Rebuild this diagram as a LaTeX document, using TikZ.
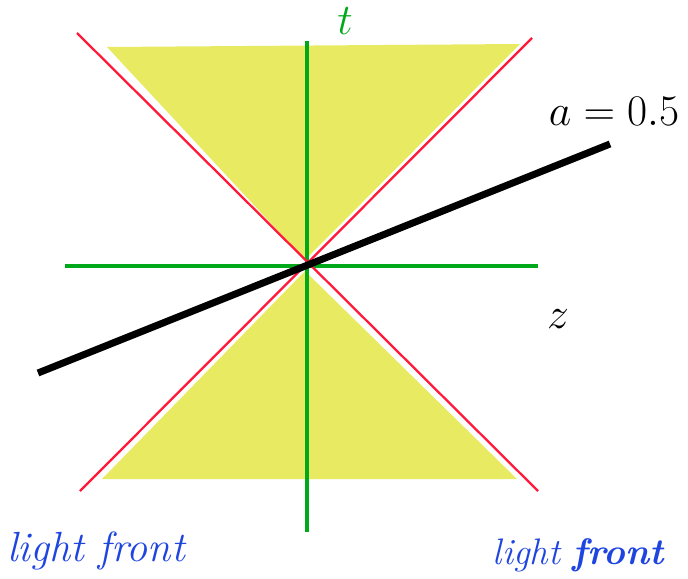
\documentclass[tikz,border=0pt]{standalone}
\usetikzlibrary{positioning, calc}
\definecolor{Cone}{HTML}{E8EB62}
\definecolor{Axis}{HTML}{00A81A}
\definecolor{Light}{HTML}{FF1A3C}
\definecolor{Front}{HTML}{1F45E0}
\tikzset{
    axisline/.style={Axis, line width=2.3pt},
    lightline/.style={Light, line width=1.3pt},
    frameline/.style={black, line width=4pt},
    conefill/.style={fill=Cone, draw=none},
    biglabel/.style={font=\rmfamily\fontsize{24}{29}\selectfont, inner sep=0pt},
}
\begin{document}
\begin{tikzpicture}[x=0.02cm, y=-0.02cm]
    \useasboundingbox (0,0) rectangle (688,578);
    \coordinate (O) at (305,265);

    % Coni
    \fill[conefill] (107,47) -- (520,44) -- (305,260) -- cycle;
    \fill[conefill] (102,479) -- (517,479) -- (305,271) -- cycle;

    % Assi
    \draw[axisline] (65,266) -- (538,266);
    \draw[axisline] (307,41) -- (307,532);

    % Fronti di luce
    \draw[lightline] (77,33) -- (538,491);
    \draw[lightline] (532,38) -- (80,491);

    % Retta a = 0.5
    \draw[frameline] (38,373) -- (610,144);

    % Etichette
    \node[biglabel, text=Axis] (tlabel) at (345,21) {$t$};
    \node[biglabel] (zlabel) at (558,319) {$z$};
    \node[biglabel] (alabel) at (614,111) {$a = 0.5$};
    \node[biglabel, text=Front] (frontL) at (96,551) {\itshape light front};
    \node[biglabel, text=Front, font=\rmfamily\fontsize{21}{26}\selectfont] (frontR) at (579,555) {\textit{light} \textbf{\textit{front}}};
\end{tikzpicture}
\end{document}
